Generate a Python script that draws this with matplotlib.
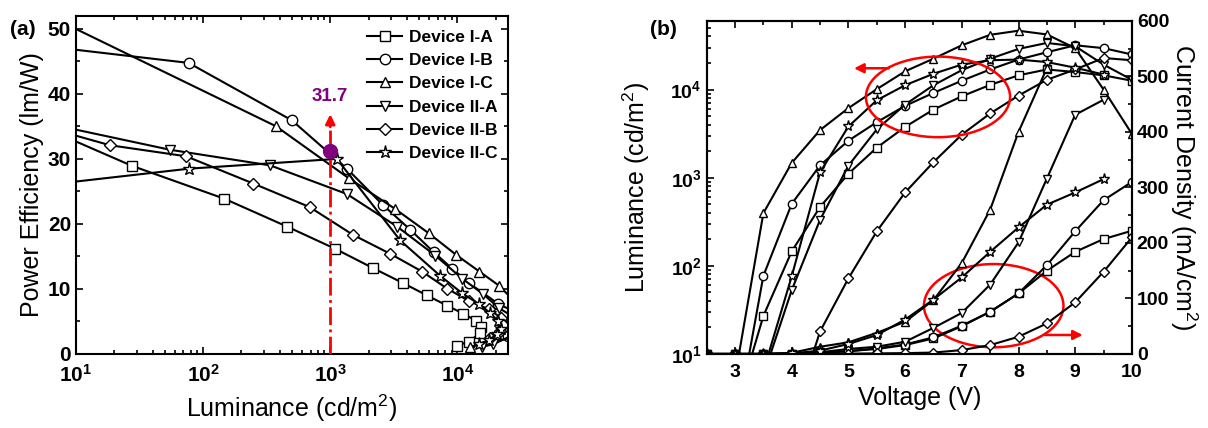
import numpy as np
import matplotlib.pyplot as plt
from matplotlib.patches import Ellipse
from matplotlib.ticker import FixedLocator, FixedFormatter, MultipleLocator, LogLocator, NullFormatter

plt.rcParams["font.family"] = "Liberation Sans"
plt.rcParams["mathtext.fontset"] = "custom"
plt.rcParams["mathtext.rm"] = "Liberation Sans"
plt.rcParams["mathtext.bf"] = "Liberation Sans:bold"
plt.rcParams["mathtext.it"] = "Liberation Sans:italic"

devices = ["Device I-A", "Device I-B", "Device I-C", "Device II-A", "Device II-B", "Device II-C"]
markers = ["s", "o", "^", "v", "D", "*"]

# (a) power efficiency vs luminance
pe_lum = {
    "Device I-A": [8, 27.4, 147, 461, 1094, 2153, 3712, 5735, 8290, 11090, 14120, 15460, 15140, 12270, 9950],
    "Device I-B": [8, 77, 499, 1352, 2600, 4266, 6516, 9080, 12360, 21040, 28000, 31800, 29500, 25000],
    "Device I-C": [8, 376, 1393, 3252, 5940, 9770, 14890, 21400, 30000, 40000, 28000, 12600],
    "Device II-A": [8, 55, 337, 1352, 3350, 6710, 10900, 15850, 21400, 28000, 33800, 31000, 19200, 15700],
    "Device II-B": [8, 18.5, 73.5, 249, 687, 1507, 2966, 5270, 8300, 12280, 17660, 21900, 22800, 21500, 18000],
    "Device II-C": [8, 78, 1127, 3556, 7345, 10900, 14720, 18200, 21000, 21900, 20500, 17700, 14800],
}
pe_val = {
    "Device I-A": [33.5, 28.95, 23.87, 19.56, 16.17, 13.24, 10.93, 9.03, 7.44, 6.21, 5.08, 4.16, 3.2, 1.9, 1.28],
    "Device I-B": [47.0, 44.76, 35.93, 28.5, 22.9, 19.1, 15.66, 13.14, 10.88, 7.7, 6.5, 5.0, 3.6, 2.8],
    "Device I-C": [50.9, 35.0, 27.05, 22.28, 18.58, 15.25, 12.68, 10.47, 7.5, 4.5, 2.6, 1.1],
    "Device II-A": [34.9, 31.4, 29.0, 24.6, 19.6, 15.14, 11.6, 9.24, 7.03, 5.6, 4.3, 3.4, 1.5, 1.1],
    "Device II-B": [34.1, 32.1, 30.4, 26.2, 22.6, 18.33, 15.4, 12.68, 10.06, 8.16, 6.88, 5.6, 4.5, 3.5, 2.5],
    "Device II-C": [26.3, 28.5, 30.0, 17.45, 12.0, 9.34, 7.7, 6.26, 5.0, 3.9, 3.0, 2.2, 1.5],
}
mark_L, mark_PE = 1000, 31.26

# (b) luminance and current density vs voltage
volt = np.arange(2.5, 10.01, 0.5)
lum = {
    "Device I-A": [1, 2.2, 27, 146, 465, 1110, 2190, 3770, 5930, 8380, 11300, 14500, 16900, 15800, 14500, 12600],
    "Device I-B": [1, 1.3, 77, 505, 1380, 2630, 4260, 6530, 9160, 12600, 16900, 21900, 26500, 31800, 29500, 25000],
    "Device I-C": [1, 5.5, 396, 1470, 3470, 6160, 10100, 16100, 22400, 31800, 41800, 46500, 42200, 29500, 10000, 3140],
    "Device II-A": [1, 1, 5.7, 53, 333, 1370, 3530, 6750, 11200, 16600, 22400, 28900, 33800, 31000, 19200, 12900],
    "Device II-B": [1, 1, 1, 1.8, 18, 72, 246, 680, 1500, 3080, 5350, 8540, 12900, 16900, 22800, 21500],
    "Device II-C": [1, 1, 6.4, 76, 1150, 3810, 7560, 11200, 15100, 19200, 21500, 21900, 20500, 17700, 14800],
}
cur = {
    "Device I-A": [0, 0, 0, 0.5, 2, 5, 9, 16, 28, 50, 76, 109, 150, 184, 207, 222],
    "Device I-B": [0, 0, 0, 0.5, 2, 5, 10, 17, 30, 51, 76, 109, 160, 221, 277, 310],
    "Device I-C": [0, 0, 0, 2, 13, 21, 38, 58, 97, 164, 260, 400, 515],
    "Device II-A": [0, 0, 0, 0, 3, 9, 13, 22, 47, 74, 125, 201, 316, 431, 458],
    "Device II-B": [0, 0, 0, 0, 0, 0.5, 1, 1.5, 2.5, 7, 16, 31, 55, 93, 148, 210],
    "Device II-C": [0, 0, 0, 1, 6, 18, 34, 62, 98, 138, 184, 228, 269, 291, 315],
}

fig = plt.figure(figsize=(12.08, 4.28), dpi=100)
ax1 = fig.add_axes([0.0629, 0.173, 0.3576, 0.790])
ax2 = fig.add_axes([0.585, 0.173, 0.352, 0.778])
ax3 = ax2.twinx()

mk = dict(color="black", lw=1.5, mfc="white", mec="black", mew=1.0)

for name, m in zip(devices, markers):
    ms = 9.5 if m == "*" else 7.5
    if m == "D":
        ms = 6.5
    ax1.plot(pe_lum[name], pe_val[name], marker=m, ms=ms, label=name, **mk)
ax1.set_xscale("log")
ax1.set_xlim(10, 2.5e4)
ax1.set_ylim(0, 52)
ax1.plot(mark_L, mark_PE, "o", color="#800080", ms=10, zorder=5)
ax1.plot([mark_L, mark_L], [0, 35], color="red", lw=2, ls="-.", zorder=4)
ax1.annotate("", xy=(mark_L, 37.3), xytext=(mark_L, 34.5),
             arrowprops=dict(arrowstyle="-|>", color="red", lw=2, mutation_scale=14))
ax1.text(mark_L, 38.3, "31.7", color="#800080", fontsize=13.5, fontweight="bold",
         ha="center", va="bottom")

leg = ax1.legend(loc="upper right", bbox_to_anchor=(1.0, 0.99), frameon=False,
                 prop=dict(size=12.5, weight="bold"), handlelength=2.0,
                 labelspacing=0.47, handletextpad=0.4, borderaxespad=0.2)

ax1.yaxis.set_major_locator(MultipleLocator(10))
ax1.yaxis.set_minor_locator(MultipleLocator(5))
ax1.xaxis.set_major_locator(FixedLocator([10, 100, 1000, 10000]))
ax1.xaxis.set_major_formatter(FixedFormatter([r"$\mathbf{10^{1}}$", r"$\mathbf{10^{2}}$",
                                              r"$\mathbf{10^{3}}$", r"$\mathbf{10^{4}}$"]))
ax1.xaxis.set_minor_locator(LogLocator(base=10, subs=np.arange(2, 10)))
ax1.xaxis.set_minor_formatter(NullFormatter())
ax1.set_xlabel("Luminance (cd/m$^2$)", fontsize=18, labelpad=5)
ax1.set_ylabel("Power Efficiency (lm/W)", fontsize=18, labelpad=3)

for name, m in zip(devices, markers):
    ms = 8 if m == "*" else 6
    if m == "D":
        ms = 5.2
    v = volt[:len(lum[name])]
    ax2.plot(v, lum[name], marker=m, ms=ms, **mk)
    v = volt[:len(cur[name])]
    ax3.plot(v, cur[name], marker=m, ms=ms, **mk)
ax2.set_yscale("log")
ax2.set_xlim(2.5, 10)
ax2.set_ylim(10, 6e4)
ax3.set_ylim(0, 600)
ax2.xaxis.set_major_locator(MultipleLocator(1))
ax2.xaxis.set_minor_locator(MultipleLocator(0.5))
ax2.set_xticks([3, 4, 5, 6, 7, 8, 9, 10])
ax2.yaxis.set_major_locator(FixedLocator([10, 100, 1000, 10000]))
ax2.yaxis.set_major_formatter(FixedFormatter([r"$\mathbf{10^{1}}$", r"$\mathbf{10^{2}}$",
                                              r"$\mathbf{10^{3}}$", r"$\mathbf{10^{4}}$"]))
ax2.yaxis.set_minor_locator(LogLocator(base=10, subs=np.arange(2, 10)))
ax2.yaxis.set_minor_formatter(NullFormatter())
ax3.yaxis.set_major_locator(MultipleLocator(100))
ax3.yaxis.set_minor_locator(MultipleLocator(50))
ax2.set_xlabel("Voltage (V)", fontsize=18, labelpad=4)
ax2.set_ylabel("Luminance (cd/m$^2$)", fontsize=18, labelpad=13)
ax3.set_ylabel("Current Density (mA/cm$^2$)", fontsize=18, rotation=270, labelpad=22)

ax2.add_patch(Ellipse((0.544, 0.772), 0.339, 0.242, transform=ax2.transAxes,
                      fill=False, ec="red", lw=1.8, zorder=6))
ax2.add_patch(Ellipse((0.675, 0.145), 0.328, 0.25, transform=ax2.transAxes,
                      fill=False, ec="red", lw=1.8, zorder=6))
ax2.annotate("", xy=(0.34, 0.858), xytext=(0.435, 0.858), xycoords="axes fraction",
             arrowprops=dict(arrowstyle="-|>", color="red", lw=1.8, mutation_scale=14))
ax2.annotate("", xy=(0.891, 0.057), xytext=(0.789, 0.057), xycoords="axes fraction",
             arrowprops=dict(arrowstyle="-|>", color="red", lw=1.8, mutation_scale=14))

for ax, size in ((ax1, 15), (ax2, 14), (ax3, 14)):
    for s in ax.spines.values():
        s.set_linewidth(1.5)
    ax.tick_params(which="both", direction="in", labelsize=size, width=1.2)
    ax.tick_params(which="major", length=5)
    ax.tick_params(which="minor", length=3)
    ax.tick_params(axis="x", pad=7)
    for lab in ax.get_xticklabels() + ax.get_yticklabels():
        lab.set_fontweight("bold")
ax1.tick_params(which="both", top=True, right=True)
ax2.tick_params(which="both", top=True)
ax3.tick_params(which="both", right=True, left=False)
ax3.yaxis.set_tick_params(labelright=True)

fig.text(0.008, 0.93, "(a)", fontsize=15, fontweight="bold", va="center")
fig.text(0.538, 0.93, "(b)", fontsize=15, fontweight="bold", va="center")

fig.savefig("out.png", dpi=100)
